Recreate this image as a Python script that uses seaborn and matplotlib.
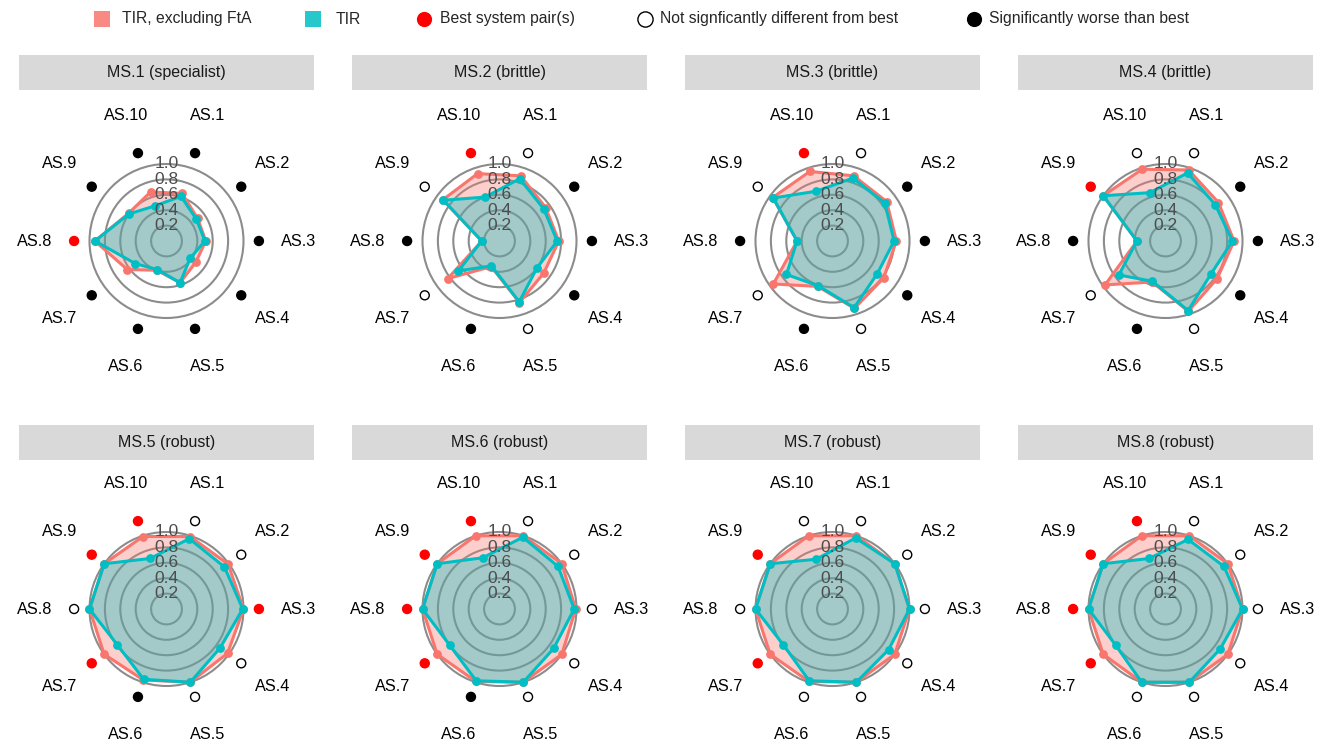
import numpy as np
import pandas as pd
import matplotlib
matplotlib.use("Agg")
import matplotlib.pyplot as plt
import seaborn as sns
from matplotlib.patches import Circle

# ---- data -------------------------------------------------------------
axis_labels = [f"AS.{i}" for i in range(1, 11)]
panel_titles = ["MS.1 (specialist)", "MS.2 (brittle)", "MS.3 (brittle)", "MS.4 (brittle)",
                "MS.5 (robust)", "MS.6 (robust)", "MS.7 (robust)", "MS.8 (robust)"]

# TIR excluding FtA, one row per MS panel, columns AS.1 .. AS.10
tir_excl_fta = [
    [0.65, 0.50, 0.51, 0.47, 0.57, 0.40, 0.63, 0.93, 0.61, 0.67],
    [0.89, 0.74, 0.77, 0.71, 0.84, 0.35, 0.83, 0.23, 0.91, 0.92],
    [0.89, 0.87, 0.83, 0.82, 0.92, 0.62, 0.95, 0.46, 0.96, 0.95],
    [0.97, 0.85, 0.89, 0.83, 0.96, 0.56, 0.97, 0.37, 1.00, 0.98],
    [0.99, 0.99, 1.00, 0.98, 1.00, 0.97, 1.00, 1.00, 1.00, 0.99],
    [1.00, 1.00, 0.99, 1.00, 1.00, 0.99, 1.00, 1.00, 1.00, 1.00],
    [1.00, 1.00, 1.00, 1.00, 1.00, 0.99, 1.00, 1.00, 1.00, 1.00],
    [1.00, 1.00, 1.00, 1.00, 1.00, 1.00, 1.00, 1.00, 1.00, 1.00],
]
# TIR, same layout
tir = [
    [0.61, 0.48, 0.50, 0.38, 0.57, 0.39, 0.50, 0.93, 0.60, 0.48],
    [0.85, 0.71, 0.75, 0.60, 0.83, 0.34, 0.66, 0.23, 0.90, 0.60],
    [0.86, 0.84, 0.80, 0.72, 0.91, 0.61, 0.74, 0.46, 0.95, 0.68],
    [0.93, 0.80, 0.87, 0.73, 0.95, 0.55, 0.75, 0.37, 1.00, 0.66],
    [0.96, 0.93, 0.99, 0.86, 1.00, 0.96, 0.79, 1.00, 1.00, 0.69],
    [0.98, 0.94, 0.97, 0.87, 1.00, 0.98, 0.80, 1.00, 1.00, 0.70],
    [0.97, 1.00, 1.00, 0.90, 1.00, 0.98, 0.79, 1.00, 1.00, 0.68],
    [0.95, 0.94, 1.00, 0.88, 1.00, 1.00, 0.80, 1.00, 1.00, 0.69],
]
# B = best system pair, N = not significantly different, W = significantly worse
significance = [
    "WWWWWWWBWW",
    "NWWWNWNWNB",
    "NWWWNWNWNB",
    "NWWWNWNWBN",
    "NNBNNWBNBB",
    "NNNNNWBBBB",
    "NNNNNNBNBN",
    "NNNNNNBBBB",
]
radial_ticks = [0.2, 0.4, 0.6, 0.8, 1.0]

# ---- style ------------------------------------------------------------
sns.set_theme(style="white")
plt.rcParams["font.family"] = ["Liberation Sans", "DejaVu Sans"]

RED = "#F8766D"
TEAL = "#00BFC4"
sig_face = {"B": "#FF0000", "N": "white", "W": "black"}
sig_edge = {"B": "#FF0000", "N": "black", "W": "black"}

W, H = 1329, 747
fig = plt.figure(figsize=(W / 100, H / 100), dpi=100)
fig.patch.set_facecolor("white")

UNIT = 77.0          # pixels per radial unit
PW = 295             # panel width in pixels
HALF_H = 151         # half panel height in pixels
col_left = [19 + 333 * c for c in range(4)]
row_center = [241, 609]
strip_top = [55, 425]
STRIP_H = 35


def px_rect(left, top, w, h):
    return [left / W, 1 - (top + h) / H, w / W, h / H]


angles = np.deg2rad(18 + 36 * np.arange(10))
MARK_R = 1.2
LABEL_R = 1.71

for p in range(8):
    row, col = divmod(p, 4)
    left = col_left[col]
    cy = row_center[row]

    # facet strip
    sax = fig.add_axes(px_rect(left, strip_top[row], PW, STRIP_H))
    sax.set_facecolor("#D9D9D9")
    sax.set_xticks([]); sax.set_yticks([])
    for s in sax.spines.values():
        s.set_visible(False)
    sax.text(0.5, 0.5, panel_titles[p], ha="center", va="center",
             fontsize=11.5, color="#1A1A1A", transform=sax.transAxes)

    ax = fig.add_axes(px_rect(left, cy - HALF_H, PW, 2 * HALF_H))
    ax.set_xlim(-PW / 2 / UNIT, PW / 2 / UNIT)
    ax.set_ylim(-HALF_H / UNIT, HALF_H / UNIT)
    ax.axis("off")

    for t in radial_ticks:
        ax.add_patch(Circle((0, 0), t, fill=False, ec="#8C8C8C", lw=1.5, zorder=1))

    frames = []
    for name, vals in (("TIR, excluding FtA", tir_excl_fta[p]), ("TIR", tir[p])):
        r = np.asarray(vals)
        frames.append(pd.DataFrame({
            "axis": axis_labels, "series": name, "value": r,
            "x": r * np.sin(angles), "y": r * np.cos(angles),
        }))
    df = pd.concat(frames, ignore_index=True)

    for name, color in (("TIR, excluding FtA", RED), ("TIR", TEAL)):
        sub = df[df.series == name]
        ax.fill(sub.x, sub.y, color=color, alpha=0.35, lw=0, zorder=2)

    for name, color, z in (("TIR, excluding FtA", RED, 3), ("TIR", TEAL, 5)):
        sub = df[df.series == name]
        closed = pd.concat([sub, sub.iloc[[0]]], ignore_index=True)
        sns.lineplot(data=closed, x="x", y="y", sort=False, estimator=None,
                     color=color, lw=2.2, ax=ax, zorder=z, legend=False)
        sns.scatterplot(data=sub, x="x", y="y", color=color, s=40,
                        edgecolor=color, linewidth=0, ax=ax, zorder=z + 0.5,
                        legend=False)

    for t in radial_ticks:
        ax.text(0, t, f"{t:.1f}", ha="center", va="center", fontsize=12.5,
                color="#4D4D4D", zorder=7)

    codes = list(significance[p])
    sig = pd.DataFrame({
        "x": MARK_R * np.sin(angles), "y": MARK_R * np.cos(angles), "code": codes,
    })
    ax.scatter(sig.x, sig.y, s=42, c=[sig_face[c] for c in codes],
               edgecolors=[sig_edge[c] for c in codes], linewidths=1.0, zorder=6,
               clip_on=False)

    for lab, a in zip(axis_labels, angles):
        ax.text(LABEL_R * np.sin(a), LABEL_R * np.cos(a), lab, ha="center",
                va="center", fontsize=11.7, color="black", clip_on=False)
    ax.set_xlabel(""); ax.set_ylabel("")

# ---- legend along the top --------------------------------------------
lax = fig.add_axes([0, 0, 1, 1], zorder=-1)
lax.set_xlim(0, W); lax.set_ylim(H, 0)
lax.axis("off")
LY = 19
LFS = 11.3
lax.scatter([102], [LY], marker="s", s=120, color=RED, alpha=0.85, lw=0)
lax.text(122, LY, "TIR, excluding FtA", va="center", fontsize=LFS)
lax.scatter([313], [LY], marker="s", s=120, color=TEAL, alpha=0.85, lw=0)
lax.text(336, LY, "TIR", va="center", fontsize=LFS)
lax.scatter([424], [LY], marker="o", s=120, color="#FF0000", lw=0)
lax.text(440, LY, "Best system pair(s)", va="center", fontsize=LFS)
lax.scatter([645], [LY], marker="o", s=120, facecolor="white", edgecolor="black", lw=1.0)
lax.text(660, LY, "Not signficantly different from best", va="center", fontsize=LFS)
lax.scatter([974], [LY], marker="o", s=120, color="black", lw=0)
lax.text(989, LY, "Significantly worse than best", va="center", fontsize=LFS)

fig.savefig("out.png", dpi=100, facecolor="white")
